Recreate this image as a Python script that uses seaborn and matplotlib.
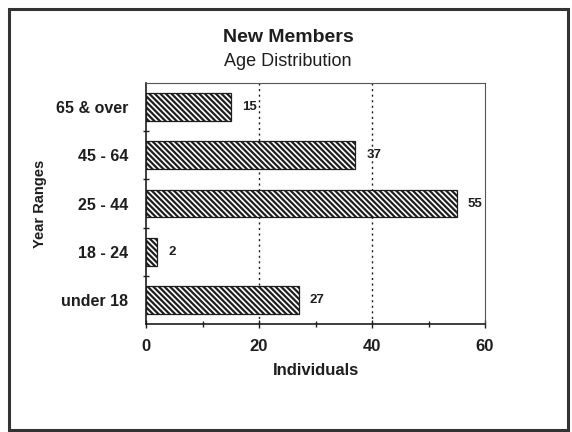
import matplotlib
matplotlib.use("Agg")
import matplotlib.pyplot as plt
from matplotlib.patches import Rectangle
from matplotlib.ticker import MultipleLocator, FixedLocator
import seaborn as sns
import pandas as pd

# Age ranges, top to bottom, and number of new members in each
age_ranges = ["65 & over", "45 - 64", "25 - 44", "18 - 24", "under 18"]
members = [15, 37, 55, 2, 27]
x_ticks = [0, 20, 40, 60]

title = "New Members"
subtitle = "Age Distribution"
x_label = "Individuals"
y_label = "Year Ranges"

df = pd.DataFrame({"range": age_ranges, "count": members})

sns.set_theme(style="white")
plt.rcParams["font.family"] = ["Liberation Sans", "DejaVu Sans"]
plt.rcParams["hatch.linewidth"] = 1.6
plt.rcParams["hatch.color"] = "#1e1e1e"

ink = "#1e1e1e"

fig = plt.figure(figsize=(5.72, 4.32), dpi=100)
ax = fig.add_axes([146 / 572, 1 - 324 / 432, (485 - 146) / 572, (324 - 83) / 432])

sns.barplot(data=df, x="count", y="range", orient="h", order=age_ranges,
            color="white", edgecolor=ink, linewidth=0.9, hatch="\\" * 6,
            width=0.58, saturation=1, ax=ax)
for p in ax.patches:
    p.set_facecolor("white")
    p.set_edgecolor(ink)

ax.bar_label(ax.containers[0], labels=[str(v) for v in members], padding=8,
             fontsize=9.5, fontweight="bold", color=ink)

ax.set_xlim(0, 60)
ax.set_ylim(len(age_ranges) - 0.5, -0.5)
ax.xaxis.set_major_locator(FixedLocator(x_ticks))
ax.xaxis.set_minor_locator(MultipleLocator(10))
ax.yaxis.set_minor_locator(FixedLocator([0.5, 1.5, 2.5, 3.5]))

ax.grid(False)
for xv in (20, 40):
    ax.axvline(xv, color=ink, linestyle=(0, (1.5, 2.5)), linewidth=1.0, zorder=0)

for side in ("left", "bottom"):
    ax.spines[side].set_color(ink)
    ax.spines[side].set_linewidth(1.2)
for side in ("top", "right"):
    ax.spines[side].set_color("#555555")
    ax.spines[side].set_linewidth(0.8)

ax.tick_params(axis="x", which="major", direction="inout", length=6, width=1,
               color=ink, bottom=True, pad=8, labelsize=12, labelcolor=ink)
ax.tick_params(axis="x", which="minor", direction="inout", length=5, width=1,
               color=ink, bottom=True)
ax.tick_params(axis="y", which="major", left=False, pad=7, labelsize=11.5,
               labelcolor=ink)
ax.tick_params(axis="y", which="minor", direction="inout", length=5, width=1,
               color=ink, left=True)
for lab in ax.get_xticklabels() + ax.get_yticklabels():
    lab.set_fontweight("bold")

ax.set_xlabel(x_label, fontsize=12, fontweight="bold", color=ink, labelpad=6)
ax.set_ylabel(y_label, fontsize=10.5, fontweight="bold", color=ink, labelpad=6)

fig.text(288 / 572, 1 - 37 / 432, title, ha="center", va="center",
         fontsize=14, fontweight="bold", color=ink)
fig.text(288 / 572, 1 - 61 / 432, subtitle, ha="center", va="center",
         fontsize=13, color=ink)

# Frame around the whole chart
fig.patches.append(Rectangle((9 / 572, 2 / 432), (568 - 9) / 572, (423 - 2) / 432,
                             transform=fig.transFigure, fill=False,
                             edgecolor="#333333", linewidth=2.2))

fig.savefig("out.png", dpi=100)
